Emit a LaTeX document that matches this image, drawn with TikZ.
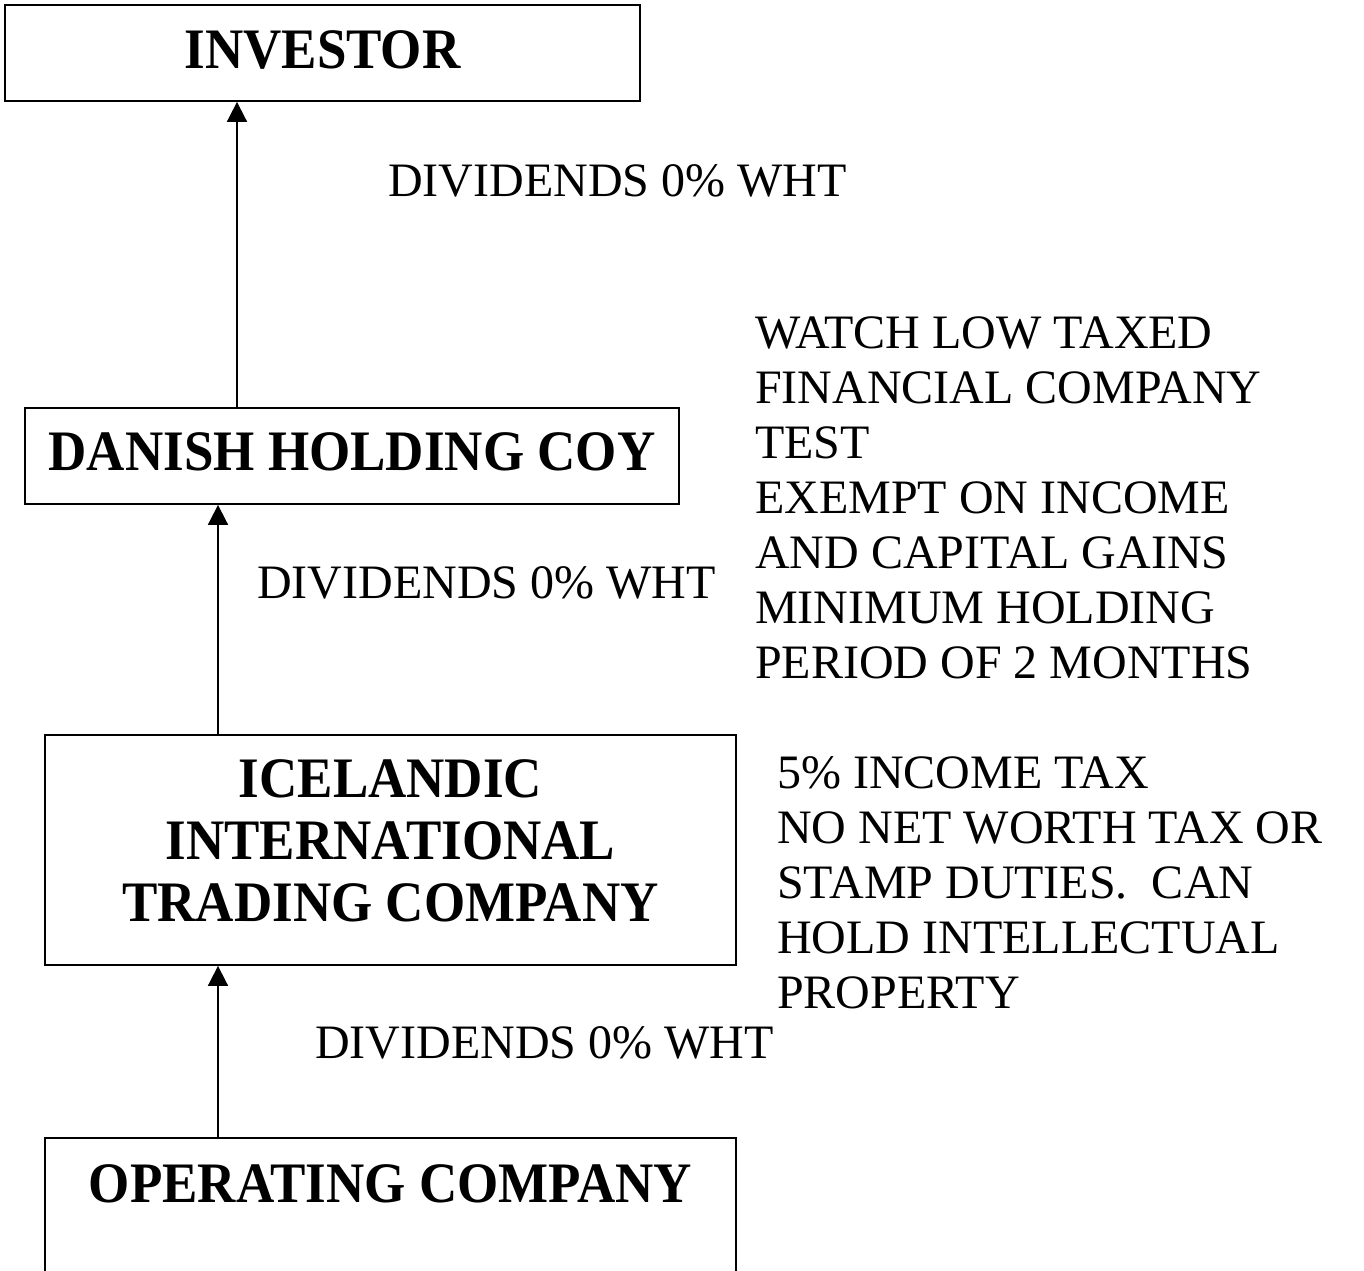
\documentclass[tikz,border=0pt]{standalone}
\usepackage{fontspec}
\setmainfont{Liberation Serif}
\usetikzlibrary{arrows.meta}
\newcommand\tallbf[1]{\scalebox{1}[1.08]{\bfseries #1}}
\tikzset{
  x=1pt, y=-1pt,
  boxnode/.style={draw, line width=1.8pt, inner sep=0pt, anchor=base,
                  font=\fontsize{53}{62}\selectfont},
  boldline/.style={inner sep=0pt, anchor=base, font=\fontsize{53}{62}\selectfont},
  plain/.style={inner sep=0pt, anchor=base west, font=\fontsize{48}{55}\selectfont},
  arr/.style={line width=1.8pt, -{Triangle[width=20pt 0,length=20pt 0]}}
}
\begin{document}
\begin{tikzpicture}
\clip (0,0) rectangle (1364,1270);
\fill[white] (0,0) rectangle (1364,1270);

% boxes
\node[boxnode, minimum width=635pt, text height=63pt, text depth=33pt] (inv) at (322.5,68) {\tallbf{INVESTOR}};
\node[boxnode, minimum width=654pt, text height=62pt, text depth=34pt] (dan) at (352,470) {\tallbf{DANISH HOLDING COY}};
\node[boxnode, minimum width=691pt, minimum height=230pt] (ice) at (390.5,850) [anchor=center] {};
\node[boldline] (ice1) at (390.5,797) {\tallbf{ICELANDIC}};
\node[boldline] (ice2) at (390.5,859) {\tallbf{INTERNATIONAL}};
\node[boldline] (ice3) at (390.5,921) {\tallbf{TRADING COMPANY}};
\node[boxnode, minimum width=691pt, text height=64pt, text depth=110pt] (op) at (390.5,1202) {\tallbf{OPERATING COMPANY}};

% connectors
\coordinate (xa) at (237,0);
\coordinate (xb) at (218,0);
\draw[arr] (xa |- dan.north) -- (xa |- inv.south);
\draw[arr] (xb |- ice.north) -- (xb |- dan.south);
\draw[arr] (xb |- op.north) -- (xb |- ice.south);

% labels
\node[plain] (l1) at (388,196) {DIVIDENDS 0\% WHT};
\node[plain] (l2) at (257,598) {DIVIDENDS 0\% WHT};
\node[plain] (l3) at (315,1058) {DIVIDENDS 0\% WHT};

% right notes
\node[plain] (a1) at (755,348) {WATCH LOW TAXED};
\node[plain] (a2) at (755,403) {FINANCIAL COMPANY};
\node[plain] (a3) at (755,458) {TEST};
\node[plain] (a4) at (755,513) {EXEMPT ON INCOME};
\node[plain] (a5) at (755,568) {AND CAPITAL GAINS};
\node[plain] (a6) at (755,623) {MINIMUM HOLDING};
\node[plain] (a7) at (755,678) {PERIOD OF 2 MONTHS};

\node[plain] (b1) at (777,788) {5\% INCOME TAX};
\node[plain] (b2) at (777,843) {NO NET WORTH TAX OR};
\node[plain] (b3) at (777,898) {STAMP DUTIES.\hspace{0.5em}CAN};
\node[plain] (b4) at (777,953) {HOLD INTELLECTUAL};
\node[plain] (b5) at (777,1008) {PROPERTY};
\end{tikzpicture}
\end{document}
